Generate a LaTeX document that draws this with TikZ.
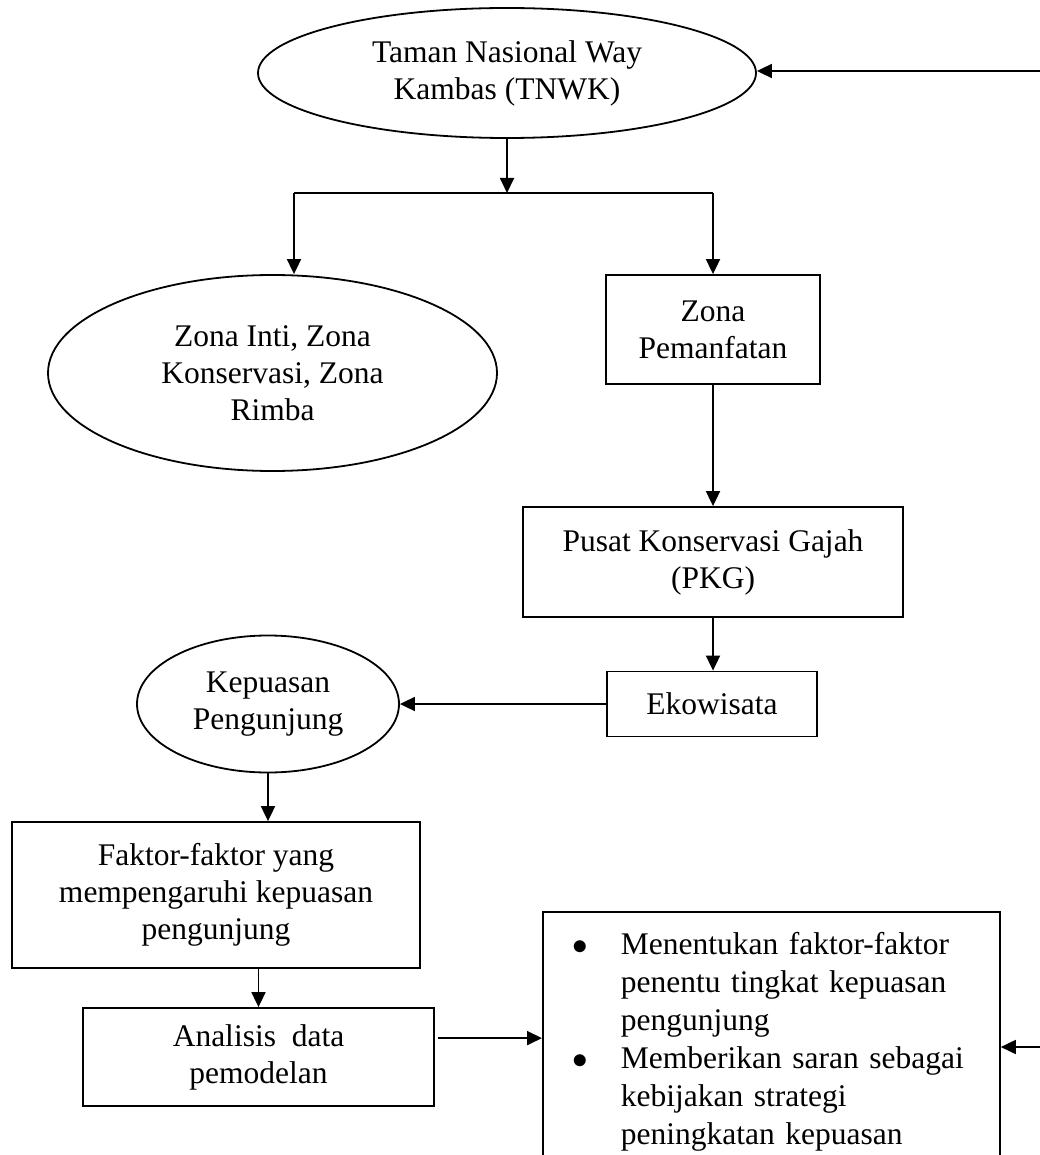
\documentclass[tikz,border=0pt]{standalone}
\usepackage{fontspec}
\setmainfont{Liberation Serif}
\usetikzlibrary{shapes.geometric,arrows.meta,calc}
\begin{document}
\begin{tikzpicture}[x=1pt,y=-1pt,
  every node/.style={font=\fontsize{31.5}{37}\selectfont, align=center, inner sep=0pt},
  ell/.style={draw, ellipse, line width=1.8pt},
  box/.style={draw, rectangle, line width=1.8pt},
  arr/.style={line width=1.8pt, -{Triangle[length=15pt,width=14pt]}},
  ln/.style={line width=1.8pt}]
\useasboundingbox (0,0) rectangle (1040,1155);
\clip (0,0) rectangle (1040,1155);

\node[ell, minimum width=498pt, minimum height=130pt] (tnwk) at (507,73) {Taman Nasional Way\\Kambas (TNWK)};
\node[ell, minimum width=449pt, minimum height=196pt] (zona) at (272.5,373) {Zona Inti, Zona\\Konservasi, Zona\\Rimba};
\node[box, minimum width=214pt, minimum height=109pt] (zp) at (713,329.5) {Zona\\Pemanfatan};
\node[box, minimum width=380pt, minimum height=110pt] (pkg) at (713,562) {Pusat Konservasi Gajah\\(PKG)};
\node[box, minimum width=210pt, minimum height=65pt] (ek) at (712,704) {Ekowisata};
\node[ell, minimum width=262pt, minimum height=137pt] (kep) at (268,704) {Kepuasan\\Pengunjung};
\node[box, minimum width=408pt, minimum height=146pt] (fak) at (216,895) {Faktor-faktor yang\\mempengaruhi kepuasan\\pengunjung};
\node[box, minimum width=351pt, minimum height=98pt] (ana) at (258.5,1057) {Analisis\ \ data\\pemodelan};
\node[box, anchor=north west, text width=397pt, inner xsep=30pt, inner ysep=20pt, align=left,
      font=\fontsize{31.5}{38}\selectfont] (big) at (542,911)
  {\mbox{\makebox[48pt][l]{\scalebox{1.25}{$\bullet$}}Menentukan faktor-faktor}\\
   \mbox{\hspace*{48pt}penentu tingkat kepuasan}\\
   \mbox{\hspace*{48pt}pengunjung}\\
   \mbox{\makebox[48pt][l]{\scalebox{1.25}{$\bullet$}}Memberikan saran sebagai}\\
   \mbox{\hspace*{48pt}kebijakan strategi}\\
   \mbox{\hspace*{48pt}peningkatan kepuasan}};

\coordinate (rin) at (1040,71);
\draw[arr] (rin) -- (rin -| tnwk.east);
\coordinate (sp) at (507,193);
\draw[arr] (tnwk.south) -- (sp);
\coordinate (bl) at (294,193);
\coordinate (br) at (713,193);
\draw[ln] (bl) -- (br);
\draw[arr] (bl) -- (bl |- zona.north);
\draw[arr] (br) -- (zp.north);
\draw[arr] (zp.south) -- (pkg.north);
\draw[arr] (pkg.south) -- (pkg.south |- ek.north);
\draw[arr] (ek.west) -- (kep.east);
\draw[arr] (kep.south) -- (kep.south |- fak.north);
\draw[arr] (fak.south -| ana.north) -- (ana.north);
\coordinate (a1) at ($(ana.north east)+(3,31)$);
\draw[arr] (a1) -- (a1 -| big.west);
\coordinate (rin2) at (1040,1047);
\draw[arr] (rin2) -- (rin2 -| big.east);
\end{tikzpicture}
\end{document}
